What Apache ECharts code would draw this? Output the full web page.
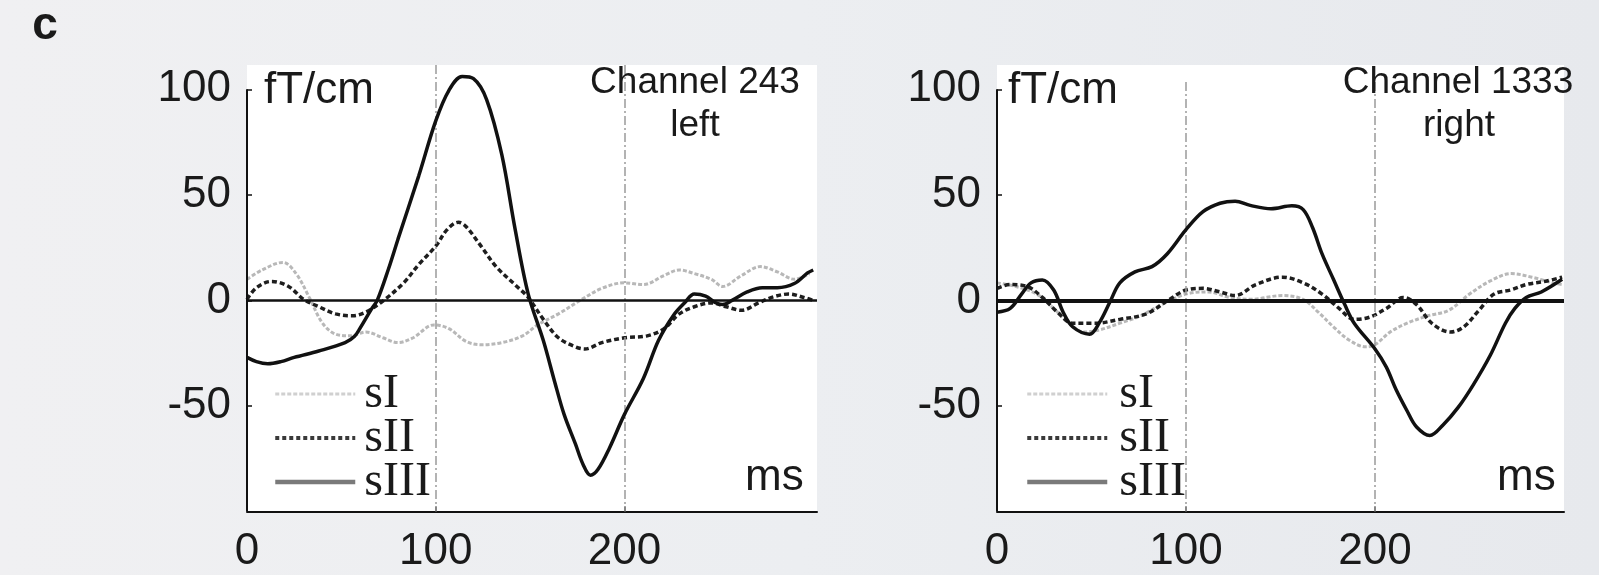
<!DOCTYPE html>
<html>
<head>
<meta charset="utf-8">
<title>Channel 243 / Channel 1333</title>
<script src="https://cdn.jsdelivr.net/npm/echarts@6/dist/echarts.min.js"></script>
<style>
  html, body { margin: 0; padding: 0; }
  #chart { width: 1599px; height: 575px; }
</style>
</head>
<body>
<div id="chart"></div>
<script>
// Tick labels
const msTicks = [0, 100, 200];
const msMarks = [100, 200];
const fieldTicks = [-50, 0, 50, 100];
const seriesNames = ['sI', 'sII', 'sIII'];

// Channel 243 (left hemisphere): [time ms, field fT/cm]
const leftSI = [[0,10],[8,14.4],[19,18],[26,12.7],[33,1.4],[40,-10.8],[47,-16],[55,-16.8],[63,-15],[72,-17.7],[80,-20],[88,-17.7],[99,-11.6],[107,-13.4],[116,-19.4],[124,-21],[135,-20],[146,-16.8],[154,-11.6],[165,-6.4],[176,-0.3],[188,5.7],[200,8.3],[210,7.5],[221,11.8],[229,14.4],[237,12.7],[246,10],[252,6.6],[262,11.8],[272,16],[281,13.5],[290,10],[298,12.7]];
const leftSII = [[0,0.5],[5,6],[13,9],[22,6.6],[30,0.5],[38,-3],[47,-6.4],[56,-7.3],[63,-5.5],[72,-0.3],[83,8.3],[91,17],[100,25.7],[106,33.5],[112,37],[116,35],[124,25.7],[132,16],[143,6.6],[149,1.4],[157,-9],[165,-17.7],[174,-22],[179,-23],[188,-20],[200,-17.7],[212,-16.8],[221,-13.4],[229,-6.4],[237,-3],[246,-1.2],[254,-3],[262,-4.7],[271,-1.2],[279,1.7],[287,3],[295,1.4],[300,0]];
const leftSIII = [[0,-27],[5,-29],[11,-30],[18,-29],[25,-27],[38,-24],[52,-20],[57,-17],[60,-13],[66,-4],[69,0],[75,15],[80,29],[91,59],[100,85],[107,99.5],[114,106],[120,105],[127,95],[135,69],[142,34],[149,3],[157,-19],[163,-38.5],[168,-54],[174,-68],[178,-77.6],[182,-82.8],[186,-80],[192,-70],[200,-54],[210,-37],[218,-19],[226,-7],[232,-1],[237,3],[243,2],[248,-1],[252,-2],[257,0],[265,4],[273,6],[281,6],[290,8],[297,13],[300,14.4]];

// Channel 1333 (right hemisphere): [time ms, field fT/cm]
const rightSI = [[0,8.3],[10,6.6],[21,3],[30,-3.8],[38,-10.8],[46,-15],[54,-14],[65,-10.8],[76,-7.3],[87,-2],[100,3],[112,4],[123,1.4],[134,0.5],[151,2.3],[162,0.5],[170,-5.6],[178,-12.5],[186,-18.6],[195,-22],[200,-21],[208,-15],[217,-10.8],[228,-7.3],[239,-4.7],[250,3],[261,9.2],[272,12.7],[283,11],[294,8.3],[299,7.5]];
const rightSII = [[0,5.7],[7,7.5],[16,6.6],[24,1.4],[32,-5.6],[40,-10.8],[52,-10.8],[65,-9],[79,-6.4],[90,-0.3],[100,4.9],[109,5.7],[118,4],[126,2.3],[137,7.5],[151,11],[162,8.3],[172,3],[181,-3.8],[189,-9],[197,-8],[206,-3.8],[215,1.4],[222,-2],[230,-10.8],[240,-15],[247,-12.5],[255,-4.7],[263,3],[272,5],[280,7.5],[291,9.2],[299,11]];
const rightSIII = [[0,-5.6],[7,-3.8],[13,3],[18,8.3],[24,9.7],[30,4.9],[35,-5.6],[40,-12.5],[49,-16],[54,-10.8],[60,-0.3],[65,8.3],[73,13.5],[82,16],[90,22],[100,33.5],[109,42],[118,46],[126,47],[134,45],[145,43.4],[156,44.8],[162,43],[167,34.4],[172,22],[178,10],[184,-2],[189,-10.8],[200,-23],[206,-31.6],[211,-42],[217,-52.4],[222,-60],[229,-64],[236,-59],[244,-50.7],[252,-40],[261,-26],[269,-10.8],[274,-3.8],[280,1.4],[288,4],[299,10]];

const FONT = 'Liberation Sans, Arial, sans-serif';
const SERIF = 'Liberation Serif, Times New Roman, serif';

const styles = {
  sI:   { color: '#b8b8b8', width: 3,   type: [4, 2] },
  sII:  { color: '#1e1e1e', width: 3.5, type: [5, 3] },
  sIII: { color: '#111111', width: 3.5, type: 'solid' }
};
const legendStyles = {
  sI:   { color: '#d0d0d0', width: 3,   type: [4, 2] },
  sII:  { color: '#3a3a3a', width: 4,   type: [4, 3] },
  sIII: { color: '#7a7a7a', width: 4.5, type: 'solid' }
};

function panelGrid(left, width) {
  return {
    left: left, top: 65, width: width, height: 446.5,
    show: true, backgroundColor: '#ffffff', borderWidth: 0,
    containLabel: false, outerBoundsMode: 'none'
  };
}

function xAxisFor(idx, max) {
  return {
    type: 'value', gridIndex: idx, min: 0, max: max,
    axisLine: { show: true, onZero: false, lineStyle: { color: '#111', width: 2 } },
    axisTick: { show: true, inside: true, length: 5, customValues: msMarks, lineStyle: { color: '#111', width: 1.5 } },
    axisLabel: { show: true, customValues: msTicks, margin: 18, fontFamily: FONT, fontSize: 44, color: '#1a1a1a' },
    splitLine: { show: false }
  };
}

function yAxisFor(idx) {
  return {
    type: 'value', gridIndex: idx, min: -100, max: 111.5,
    axisLine: { show: false },
    axisTick: { show: true, inside: true, length: 5, customValues: fieldTicks, lineStyle: { color: '#111', width: 1.5 } },
    axisLabel: { show: true, customValues: fieldTicks, margin: 16, fontFamily: FONT, fontSize: 44, color: '#1a1a1a' },
    splitLine: { show: false }
  };
}

function curve(name, data, idx) {
  return {
    name: name, type: 'line', xAxisIndex: idx, yAxisIndex: idx,
    data: data, smooth: 0.35, symbol: 'none', clip: false,
    lineStyle: styles[name], itemStyle: { color: styles[name].color },
    emphasis: { disabled: true }, z: name === 'sIII' ? 5 : (name === 'sII' ? 4 : 3)
  };
}

// Reference lines: y axis, zero baseline and the 100/200 ms markers
function guides(idx, zeroWidth, markTop) {
  const dash = { color: '#9a9a9a', width: 1.5, type: [9, 3, 2, 3] };
  return {
    type: 'line', xAxisIndex: idx, yAxisIndex: idx, data: [], silent: true, z: 2,
    markLine: {
      silent: true, symbol: ['none', 'none'], animation: false,
      label: { show: false }, emphasis: { disabled: true },
      data: [
        [{ coord: [msMarks[0], markTop], lineStyle: dash }, { coord: [msMarks[0], -100] }],
        [{ coord: [msMarks[1], markTop], lineStyle: dash }, { coord: [msMarks[1], -100] }],
        [{ coord: [0, -100], lineStyle: { color: '#111', width: 2, type: 'solid' } }, { coord: [0, 100] }],
        { yAxis: 0, lineStyle: { color: '#111', width: zeroWidth, type: 'solid' } }
      ]
    }
  };
}

function legendFor(left, pad) {
  return {
    orient: 'vertical', left: left, top: 365, itemWidth: 80, itemHeight: 14, itemGap: -4,
    selectedMode: false,
    data: seriesNames.map(n => ({ name: n, lineStyle: legendStyles[n], itemStyle: { color: legendStyles[n].color, opacity: 0 } })),
    textStyle: { fontFamily: SERIF, fontSize: 48, color: '#1a1a1a', padding: [0, 0, 0, pad] }
  };
}

function label(text, x, y, size, align, weight) {
  return {
    type: 'text', x: x, y: y, z: 20, silent: true,
    style: {
      text: text, fill: '#1a1a1a',
      font: (weight || 'normal') + ' ' + size + 'px ' + FONT,
      align: align, textAlign: align, verticalAlign: 'middle', textVerticalAlign: 'middle'
    }
  };
}

const chart = echarts.init(document.getElementById('chart'), null, { renderer: 'canvas' });
chart.setOption({
  animation: false,
  backgroundColor: {
    type: 'linear', x: 0, y: 0, x2: 1, y2: 0,
    colorStops: [{ offset: 0, color: '#f0f0f2' }, { offset: 0.5, color: '#eceef1' }, { offset: 1, color: '#e7e9ed' }]
  },
  grid: [panelGrid(247, 570), panelGrid(997, 567)],
  xAxis: [xAxisFor(0, 302), xAxisFor(1, 300)],
  yAxis: [yAxisFor(0), yAxisFor(1)],
  legend: [legendFor(268, 4), legendFor(1020, 7)],
  series: [
    guides(0, 2.5, 111.5),
    guides(1, 4, 103.5),
    curve('sI', leftSI, 0), curve('sII', leftSII, 0), curve('sIII', leftSIII, 0),
    curve('sI', rightSI, 1), curve('sII', rightSII, 1), curve('sIII', rightSIII, 1)
  ],
  graphic: [
    label('c', 45, 26, 46, 'center', 'bold'),
    label('fT/cm', 264, 91, 44, 'left'),
    label('Channel 243', 695, 82.5, 37, 'center'),
    label('left', 695, 125.5, 37, 'center'),
    label('ms', 745, 478, 44, 'left'),
    label('fT/cm', 1008, 91, 44, 'left'),
    label('Channel 1333', 1458, 82.5, 37, 'center'),
    label('right', 1459, 125.5, 37, 'center'),
    label('ms', 1497, 478, 44, 'left')
  ]
});
</script>
</body>
</html>
